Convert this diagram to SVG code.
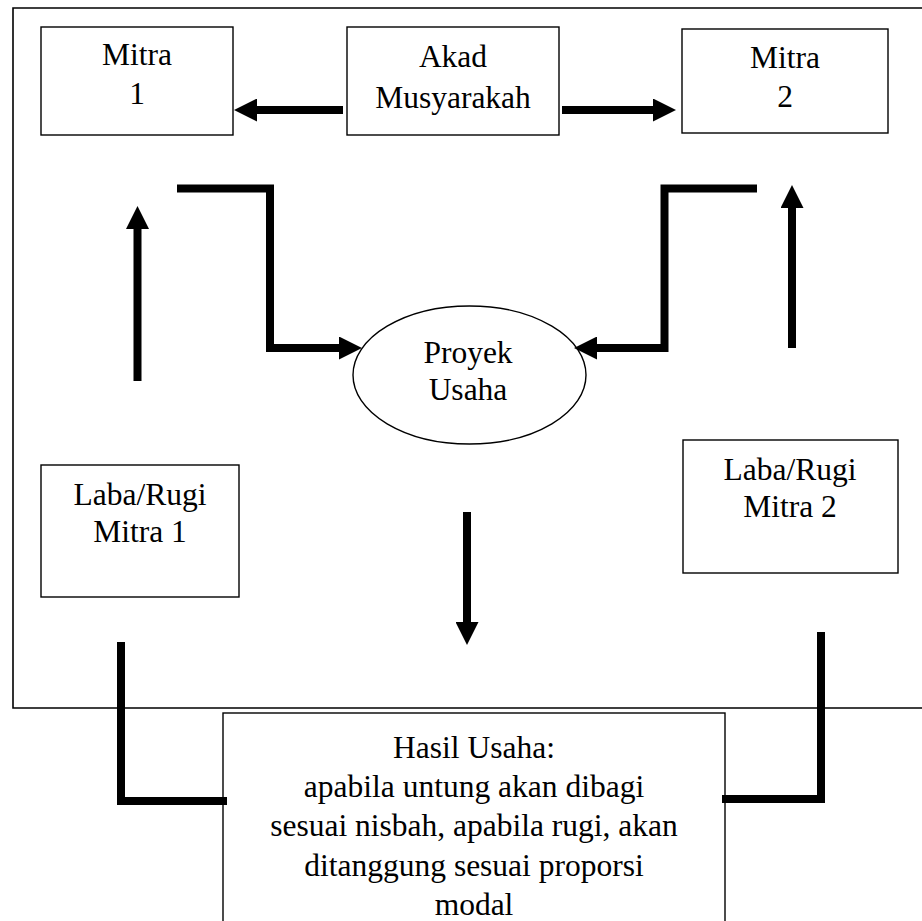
<svg xmlns="http://www.w3.org/2000/svg" width="922" height="921" viewBox="0 0 922 921">
<style>
.box{fill:#fff;stroke:#000;stroke-width:1.4}
.frame{fill:none;stroke:#000;stroke-width:1.6}
.t{font-family:"Liberation Serif","Times New Roman",serif;font-size:31.5px;fill:#000;text-anchor:middle}
.c{fill:none;stroke:#000;stroke-width:8;stroke-linejoin:miter;stroke-linecap:butt}
.ca{marker-end:url(#ah)}
</style>
<defs>
<marker id="ah" markerUnits="userSpaceOnUse" viewBox="0 0 23 23" markerWidth="23" markerHeight="23" refX="1" refY="11.5" orient="auto">
<path d="M0,0 L23,11.5 L0,23 z" fill="#000"/>
</marker>
</defs>
<path class="frame" d="M930,8 H13 V708 H930"/>
<g id="mitra1"><rect class="box" x="41" y="27" width="192" height="108"/><text class="t" x="137" y="65">Mitra</text><text class="t" x="137" y="104">1</text></g>
<g id="akad"><rect class="box" x="347" y="27" width="212" height="108"/><text class="t" x="453" y="67">Akad</text><text class="t" x="453" y="108">Musyarakah</text></g>
<g id="mitra2"><rect class="box" x="682" y="29" width="206" height="104"/><text class="t" x="785" y="68">Mitra</text><text class="t" x="785" y="107">2</text></g>
<g id="proyek"><ellipse class="box" cx="469.5" cy="375" rx="116.5" ry="69"/><text class="t" x="468" y="363">Proyek</text><text class="t" x="468" y="400">Usaha</text></g>
<g id="laba1"><rect class="box" x="41" y="465" width="198" height="132"/><text class="t" x="140" y="505">Laba/Rugi</text><text class="t" x="140" y="542">Mitra 1</text></g>
<g id="laba2"><rect class="box" x="683" y="440" width="215" height="133"/><text class="t" x="790" y="480">Laba/Rugi</text><text class="t" x="790" y="517">Mitra 2</text></g>
<g id="hasil"><rect class="box" x="223" y="713" width="502" height="260"/>
<text class="t" x="474" y="758">Hasil Usaha:</text>
<text class="t" x="474" y="797">apabila untung akan dibagi</text>
<text class="t" x="474" y="836">sesuai nisbah, apabila rugi, akan</text>
<text class="t" x="474" y="876">ditanggung sesuai proporsi</text>
<text class="t" x="474" y="915">modal</text></g>
<g id="connectors">
<path class="c ca" d="M343,110 H256"/>
<path class="c ca" d="M562,110 H654"/>
<path class="c ca" d="M177,188.5 H270 V348 H340"/>
<path class="c ca" d="M757,188.5 H664.5 V348 H596"/>
<path class="c ca" d="M137.5,381 V228"/>
<path class="c ca" d="M792,348 V207"/>
<path class="c ca" d="M467,512 V623"/>
<path class="c" d="M121,642 V801 H227"/>
<path class="c" d="M821,632 V799 H722"/>
</g>
</svg>
